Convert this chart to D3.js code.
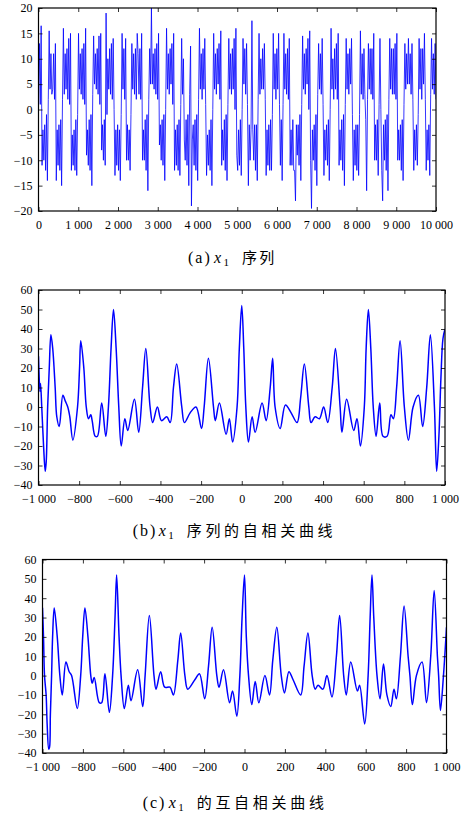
<!DOCTYPE html>
<html>
<head>
<meta charset="utf-8">
<script src="https://cdn.jsdelivr.net/npm/d3@7"></script>
<style>
    body { margin: 0; background: #fff; }
    svg { display: block; }
    .tick text { font-family: "Liberation Serif", "DejaVu Serif", serif; font-size: 12px; fill: #000; }
</style>
</head>
<body>
<svg id="chart" width="468" height="813"></svg>
<script>
// (a) x1 series, turning points, spread evenly over 0..10000
const series_a_values = [
    2, 13, 1, 16.5, -11, -4, -10, -3, -12, -1, -14, 2, 15.5, 4, 11, 3,
    4, 11, 2, 13, -14, -4, -11, -3, -12, -2, -15, 2, 16, 3, 11, 4,
    12, 2, 14, 1, 15, -12, -5, -11, -4, -12, -2, -13, -1, 15, 4, 11,
    3, 12, 2, 13, 1, 16, -9, -4, -11, -2, -12, -1, -15, 3, 14.5, 5,
    11, 4, 12, 3, 14.5, 1, 15, -8, -3, -10, -2, -11, 19, -1, 10, 4,
    12, 3, 13, 2, 14, 0, -13, -4, -11, -3, -12, -4, -14, -1, 15, 4,
    12, 2, 14, -10, -3, -10, -4, -12, -1, 13, 4, 11, 3, 12, 2, 15,
    11, 3, 12, 2, 15, -10, -4, -10, -2, -12, -1, -16, 2, 12, 5, 20,
    5, 11, 4, 12, 3, 13, 2, 15, -7, -3, -10, -2, -11, -1, -14, 0,
    16, 4, 11, 3, 12, 5, 13, 1, 15, -12, -4, -11, -3, -12, -2, -13,
    1, 14, 3, 10, -6, -10, -2, -11, -1, -15, 3, 12.5, -19, -6, -3, -11,
    -2, -12, -1, -14, 2, 16, 4, 11, 2, 12, 4, 14, 1, -13, -5, -11,
    -4, -12, -2, -15, 0, 15, 4, 11, 3, 12, 5, 13, 2, 15.5, -11, -4,
    -10, -2, -12, -1, -14, 1, 14, 4, 11, 3, 12, 4, 14, 0, 16, -9,
    -12, -4, -11, -2, -13, 0, 14, 5, 12, 3, 13, 1, -15, -3, -10, -4,
    17.5, -4, -10, -3, -12, -3, -14, 2, 15, 3, 10, 4, 12, 4, 13, 2,
    -13, -4, -11, -3, -12, -2, -12, -1, 15, 4, 11, 2, 12, 4, 15, 1,
    -11, -2, -14, 1, 15, 4, 11, 3, 12, 2, 14, -11, -4, -11, -2, -12,
    -12, -18, -3, -9, -3, -11, -1, -14, 1, 14.5, 4, 11, 3, 12, 5, 14,
    0, 15.5, -10, -19.5, -4, -10, -3, -12, -1, -15, 3, 13, 4, 11, 3, 14,
    1, -13, -4, -10, -3, -11, -2, -14, 0, 16, 4, 10, 2, 12, 4, 13,
    2, 15, -11, -4, -10, -2, -12, -1, -15, 1, 14, 4, 11, 3, 12, 5,
    14, -1, -14, -4, -11, -3, -12, -3, -13, -1, 15.5, 3, 11, 2, 12, 3,
    -2, -16, 2, 13, 4, 12, 3, 12, 2, 15, -10, -3, -10, -2, -13, 1,
    14, 0, -12, -18, -3, -10, -2, -12, -1, -16, 2, 14, 4, 12, 3, 12,
    3, 13, 2, 15, -10, -4, -10, -3, -12, -2, -14, 1, 13, 4, 11, 5,
    14, 5, 11, 3, 13, 2, -12, -4, -10, -3, -11, -1, 14, 4, 12, 2,
    12, 5, 15, 2, -12, -4, -10, -3, -13, 3, 14, 4, 11, 3, 13, 2
];
const series_a_length = 10000;
const x_ticks_a = [0, 1000, 2000, 3000, 4000, 5000, 6000, 7000, 8000, 9000, 10000];
const y_ticks_a = [-20, -15, -10, -5, 0, 5, 10, 15, 20];

// (b) autocorrelation
const lag_b = [-1000, -993, -990, -984, -975, -967, -962, -955, -947, -939, -930, -918, -910, -898, -880, -868, -856, -846, -831, -808,
    -798, -792, -777, -765, -754, -743, -736, -721, -710, -689, -669, -656, -643, -631, -618, -605, -593, -575, -561, -528,
    -507, -488, -472, -451, -438, -415, -395, -369, -352, -336, -320, -295, -282, -254, -225, -198, -185, -164, -139, -130,
    -110, -77, -61, -45, -23, -12, 0, 10, 20, 33, 51, 66, 100, 120, 140, 152, 164, 189, 215, 243,
    272, 290, 308, 330, 341, 361, 382, 403, 423, 445, 461, 484, 493, 516, 551, 567, 584, 603, 612, 623,
    635, 647, 661, 679, 695, 715, 734, 746, 762, 779, 800, 820, 843, 869, 890, 910, 928, 948, 959, 970,
    980, 990, 1000];
const corr_b = [26, 8, 12, 0, -20, -33, -28, 0, 20, 37, 30, 10, -5, -10, 6, 3, 0, -5, -17, 0,
    20, 34, 20, 0, -6, -4, -7, -15, -15, 2, -15, 0, 30, 50, 30, 0, -20, -6, -12, 4,
    -13, 10, 30, 0, -8, 0, -7, -5, -8, 10, 22, 0, -8, -3, 0, -11, 0, 25, 0, -7,
    2, -14, -6, -18, 0, 30, 52, 30, 0, -18, -5, -13, 2, -7, 10, 25, 0, -11, 1, -3,
    -8, 5, 22, 0, -8, -5, -6, 0, -8, 10, 30, 0, -13, 4, -12, -6, -20, 0, 30, 50,
    30, 0, -15, 2, -15, -15, -4, -6, 10, 34, 0, -17, 0, 6, -10, 10, 37, 0, -33, -15,
    15, 35, 40];

// (c) cross correlation
const lag_c = [-1000, -995, -990, -982, -977, -969, -965, -961, -955, -950, -942, -927, -914, -902, -884, -868, -856, -828, -811, -801,
    -790, -775, -761, -754, -744, -719, -707, -691, -669, -653, -641, -633, -621, -611, -595, -575, -562, -529, -504, -492,
    -471, -448, -438, -415, -395, -369, -352, -330, -316, -295, -281, -245, -223, -197, -178, -160, -137, -126, -104, -74,
    -59, -38, -23, -12, 0, 9, 20, 36, 53, 71, 101, 124, 140, 160, 182, 198, 220, 240, 278, 295,
    314, 335, 350, 364, 388, 408, 433, 455, 471, 491, 504, 526, 559, 570, 595, 612, 622, 631, 640, 656,
    671, 688, 705, 724, 740, 752, 772, 790, 810, 819, 831, 851, 879, 901, 922, 939, 955, 961, 970, 985,
    1000];
const corr_c = [35, 20, 0, -10, -25, -38, -37, -20, 0, 20, 35, 20, 0, -10, 7, 2, 0, -17, 0, 20,
    35, 20, 0, -4, -1, -14, -14, 1, -19, 0, 30, 52, 20, 0, -17, -5, -13, 3, -16, 0,
    31, 0, -7, 2, -6, -6, -10, 8, 22, 0, -7, -2, 1, -12, 5, 25, 0, -6, 3, -14,
    -8, -21, 0, 30, 52, 20, 0, -15, -3, -14, 0, -10, 8, 25, 0, -9, 2, -2, -10, 5,
    22, 0, -7, -5, -7, 0, -11, 10, 31, 0, -10, 7, -8, -5, -25, 0, 30, 52, 30, 0,
    -12, 6, -10, -16, -7, -12, 10, 36, 10, 0, -15, 0, 7, -14, 10, 44, 10, 0, -18, 0,
    25];

const x_ticks_bc = [-1000, -800, -600, -400, -200, 0, 200, 400, 600, 800, 1000];
const y_ticks_bc = [-40, -30, -20, -10, 0, 10, 20, 30, 40, 50, 60];

const caption_letters = ['(a)', '(b)', '(c)'];
const caption_texts = ['序列', '序列的自相关曲线', '的互自相关曲线'];

let svg = d3.select('#chart');
let tick_format = d => d3.format(',')(d).replace(/,/g, ' ').replace('-', '\u2212');

function draw_panel(panel_id, box, x_domain, y_domain, x_ticks, y_ticks, points, line_width, curve) {
    let x = d3.scaleLinear().domain(x_domain).range([box.left, box.right]);
    let y = d3.scaleLinear().domain(y_domain).range([box.bottom, box.top]);

    let g = svg.append('g').attr('id', panel_id);

    g.append('clipPath').attr('id', panel_id + '-clip')
        .append('rect')
        .attr('x', box.left).attr('y', box.top)
        .attr('width', box.right - box.left).attr('height', box.bottom - box.top);

    let line = d3.line()
        .x(d => x(d[0]))
        .y(d => y(d[1]));
    if (curve) line.curve(curve);

    g.append('path')
        .datum(points)
        .attr('clip-path', 'url(#' + panel_id + '-clip)')
        .attr('fill', 'none')
        .attr('stroke', '#0000ff')
        .attr('stroke-width', line_width)
        .attr('stroke-linejoin', 'round')
        .attr('d', line);

    // inward ticks on all four sides, labels only bottom and left
    g.append('g').attr('transform', 'translate(0,' + box.bottom + ')')
        .call(d3.axisBottom(x).tickValues(x_ticks).tickSizeInner(-4).tickSizeOuter(0).tickPadding(9).tickFormat(tick_format));
    g.append('g').attr('transform', 'translate(' + box.left + ',0)')
        .call(d3.axisLeft(y).tickValues(y_ticks).tickSizeInner(-4).tickSizeOuter(0).tickPadding(6).tickFormat(tick_format));
    g.append('g').attr('transform', 'translate(0,' + box.top + ')')
        .call(d3.axisTop(x).tickValues(x_ticks).tickSizeInner(-4).tickSizeOuter(0).tickFormat(''));
    g.append('g').attr('transform', 'translate(' + box.right + ',0)')
        .call(d3.axisRight(y).tickValues(y_ticks).tickSizeInner(-4).tickSizeOuter(0).tickFormat(''));

    g.selectAll('.domain').remove();
    g.selectAll('.tick line').attr('stroke', '#000').attr('stroke-width', 0.8);

    g.append('rect')
        .attr('x', box.left).attr('y', box.top)
        .attr('width', box.right - box.left).attr('height', box.bottom - box.top)
        .attr('fill', 'none')
        .attr('stroke', '#000')
        .attr('stroke-width', 1.2);
}

function draw_caption(index, x_start, baseline, cjk_spacing) {
    let t = svg.append('text')
        .attr('y', baseline)
        .style('font-family', '"Liberation Serif", "DejaVu Serif", serif')
        .style('font-size', '16px')
        .style('fill', '#000');
    t.append('tspan').attr('x', x_start).style('letter-spacing', '2px').text(caption_letters[index]);
    t.append('tspan').attr('x', x_start + 26).style('font-style', 'italic').text('x');
    t.append('tspan').attr('x', x_start + 35.5).attr('dy', 2.5).style('font-size', '11px').text('1');
    t.append('tspan').attr('x', x_start + 54).attr('dy', -2.5)
        .style('font-family', '"Noto Sans CJK SC", sans-serif')
        .style('font-size', '15px')
        .style('letter-spacing', cjk_spacing + 'px')
        .text(caption_texts[index]);
}

let points_a = series_a_values.map((v, i) => [i * series_a_length / (series_a_values.length - 1), v]);
let points_b = d3.zip(lag_b, corr_b);
let points_c = d3.zip(lag_c, corr_c);

draw_panel('panel-a', {left: 38.5, right: 436, top: 8, bottom: 211}, [0, 10000], [-20, 20], x_ticks_a, y_ticks_a, points_a, 0.8, null);
draw_panel('panel-b', {left: 38.5, right: 445, top: 290, bottom: 485}, [-1000, 1000], [-40, 60], x_ticks_bc, y_ticks_bc, points_b, 1.5, d3.curveCatmullRom.alpha(0.5));
draw_panel('panel-c', {left: 42.5, right: 446.5, top: 559.5, bottom: 753}, [-1000, 1000], [-40, 60], x_ticks_bc, y_ticks_bc, points_c, 1.5, d3.curveCatmullRom.alpha(0.5));

draw_caption(0, 188, 263, 2.3);
draw_caption(1, 132.7, 536, 3.7);
draw_caption(2, 142.7, 808, 3.7);
</script>
</body>
</html>
